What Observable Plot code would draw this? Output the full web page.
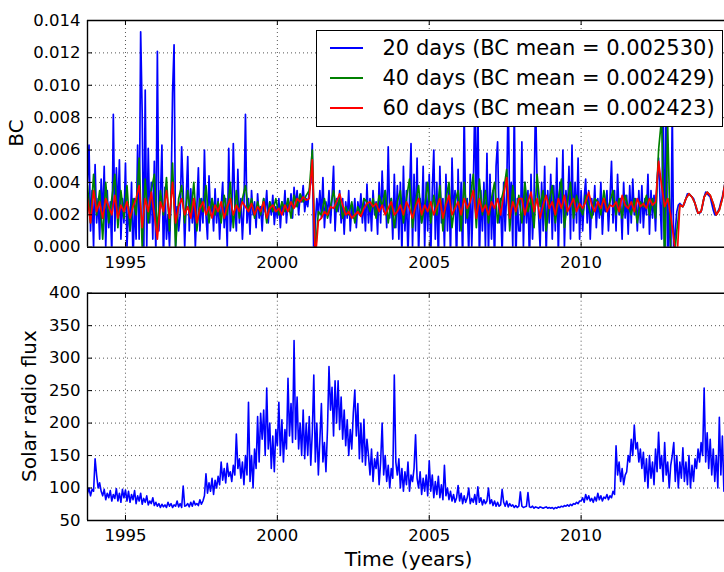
<!DOCTYPE html>
<html>
<head>
<meta charset="utf-8">
<script src="https://cdn.jsdelivr.net/npm/d3@7"></script>
<script src="https://cdn.jsdelivr.net/npm/@observablehq/plot@0.6"></script>
<style>
html, body { margin: 0; padding: 0; background: #fff; }
#fig { position: relative; width: 724px; height: 572px; overflow: hidden; background: #fff;
  font-family: 'DejaVu Sans', sans-serif; color: #000; }
#top, #bottom { position: absolute; left: 0; }
#top { top: 0; }
#bottom { top: 280px; }
.ylab { position: absolute; font-size: 20px; line-height: 20px; white-space: nowrap;
  transform: translate(-50%, -50%) rotate(-90deg); }
#xlab { position: absolute; font-size: 20.3px; line-height: 20px; white-space: nowrap;
  transform: translateX(-50%); }
#legend { position: absolute; left: 316px; top: 30px; width: 407px; height: 97px;
  box-sizing: border-box; border: 1.5px solid #000; background: #fff; }
.row { position: absolute; left: 0; width: 100%; height: 21px; }
.swatch { position: absolute; left: 13px; width: 33px; height: 1.7px; top: 9.3px; }
.ltxt { position: absolute; left: 65.5px; top: 0; font-size: 21px; line-height: 21px; white-space: nowrap; }
</style>
</head>
<body>
<div id="fig">
  <div id="top"></div>
  <div id="bottom"></div>
  <div id="legend"></div>
  <div class="ylab" id="ylab1" style="left:15.5px; top:133px;"></div>
  <div class="ylab" id="ylab2" style="left:29px; top:406px;"></div>
  <div id="xlab" style="left:408.5px; top:549px;"></div>
</div>
<script>
// ---------------- DATA ----------------
// Time axis (decimal years)
const xDomain = [1993.75, 2014.72];
const xTicks = [1995, 2000, 2005, 2010];
const bcTicks = [0, 0.002, 0.004, 0.006, 0.008, 0.010, 0.012, 0.014];
const fluxTicks = [50, 100, 150, 200, 250, 300, 350, 400];

// BC series, values in units of 1e-4, regularly sampled from bcStart
const bcStart = 1993.75;
const bcUnit = 1e-4;
const bc20Step = 0.05;
const bc20 = [
  40, 63, 10, 35, 0,
  51, 15, 30, 5, 42, 18, 50, 0, 35, 12, 28, -5, 82, 10, 49, 20, 54, 5, 30, 15,
  52, 0, 25, 10, 40, -10, 30, 5, 63, 5, 133, 83, -10, 97, 0, 61, 15, 40, 5, 53,
  -5, 121, 10, 30, 63, -10, 37, 5, 20, 0, 30, 95, 125, 0, 25, 10, 20, 62, 35, 0,
  30, 56, 10, 36, 15, 30, 0, 25, 49, 10, 30, 15, 60, 20, 5, 44, 20, 30, 10, 36,
  15, 30, 5, 25, 40, 12, 30, 0, 61, 10, 20, 64, 25, 10, 48, 15, 30, 5, 25, 82,
  15, 30, 8, 35, 20, 28, 12, 33, 18, 25, 10, 30, 22, 35, 15, 28, 20, 32, 14, 25,
  18, 30, 12, 28, 20, 35, 15, 30, 22, 33, 18, 37, 25, 35, 20, 32, 28, 38, 22, 30,
  25, 35, 40, 64, -10, 15, 30, 20, 35, 18, 43, 12, 28, 20, 35, 15, 30, 50, 10, 30,
  22, 35, 15, 30, 8, 28, 18, 35, 10, 25, 18, 30, 12, 28, 20, 33, 15, 30, 10, 39,
  15, 30, 10, 35, 20, 28, 8, 40, 15, 47, 22, 35, 12, 62, 18, 30, 5, 45, 12, 38,
  5, 40, -5, 50, 10, 35, -5, 30, 64, 0, 45, 10, 55, -5, 30, 15, 50, 0, 40, 10,
  45, -5, 35, 60, 5, 40, -10, 50, 15, 30, 0, 45, 10, 38, -5, 55, 20, 35, -10, 48,
  10, 40, -10, 85, 15, 30, -5, 45, 0, 35, 90, 20, 95, -10, 35, 10, 40, 0, 58, -5,
  45, 5, 35, -10, 50, 65, 15, 30, -5, 40, 10, 35, 95, 20, 40, 0, 88, -10, 30, 10,
  10, 65, 0, 40, 15, 35, -10, 45, 5, 30, 92, 40, 20, 0, 40, 10, 50, -5, 35, 15,
  45, 5, 38, 10, 55, -5, 40, 15, 60, 0, 35, 20, 50, 5, 63, 10, 40, 15, 55, 5,
  35, 10, 30, 42, 15, 35, 5, 30, 20, 38, 12, 30, 18, 40, 8, 28, 22, 35, 10, 30,
  53, 15, 35, 10, 45, 20, 30, 5, 40, 18, 32, 8, 38, 15, 42, 20, 30, 10, 35, 15,
  38, 12, 30, 20, 45, 8, 35, 18, 32, 10, 40, 55, 28, 5, 98, -15, 95, -15, 30, -10,
  85, -10, 10, 22, 26, 27, 26, 25, 27, 30, 33, 33, 32, 31, 30, 27, 23, 21, 21, 22,
  26, 31, 34, 33, 32, 31, 27, 23, 20, 20, 22, 24, 28, 31, 36, 41
];
const bcSmoothStep = 0.1;
const bc40 = [
  38, 15, 45,
  20, 35, 5, 40, 15, 30, 45, 12, 35, 18,
  38, 10, 30, 20, 55, 0, 42, 15, 35, 45,
  10, 35, 20, 43, 10, 52, 0, 30, 38, 15,
  35, 20, 40, 10, 30, 22, 38, 15, 30, 20,
  28, 15, 32, 20, 40, 12, 35, 18, 30, 38,
  22, 30, 18, 28, 20, 30, 15, 28, 22, 30,
  20, 28, 22, 30, 18, 32, 25, 33, 28, 32,
  35, 60, -5, 22, 20, 30, 18, 25, 35, 22,
  30, 18, 25, 20, 28, 15, 25, 20, 30, 28,
  22, 30, 18, 32, 25, 35, 15, 30, 12, 28,
  35, 15, 30, 42, 12, 28, 38, 15, 25, 40,
  15, 32, 20, 38, 10, 30, 40, 12, 28, 35,
  10, 40, 18, 30, 45, 12, 42, 20, 35, 15,
  30, 40, 15, 28, 35, 48, 10, 38, 20, 32,
  15, 40, 22, 30, 12, 45, 25, 35, 10, 28,
  38, 15, 30, 42, 12, 28, 40, 18, 32, 25,
  20, 32, 25, 18, 30, 28, 20, 35, 22, 28,
  35, 20, 30, 18, 32, 25, 20, 30, 15, 28,
  25, 32, 20, 30, 18, 60, 80, -10, 75, -5,
  -10, 10, 26, 25, 30, 33, 31, 27, 21, 22,
  31, 34, 32, 27, 20, 23, 30, 41
];
const bc60 = [
  30, 15, 35,
  22, 28, 18, 30, 25, 20, 32, 18, 26, 22,
  28, 18, 25, 30, 38, 12, 30, 22, 34, 20,
  5, 28, 22, 35, 18, 40, 15, 25, 30, 20,
  25, 18, 30, 15, 24, 28, 20, 25, 18, 26,
  22, 28, 18, 25, 30, 20, 26, 22, 28, 25,
  22, 27, 20, 25, 22, 28, 18, 24, 26, 22,
  24, 20, 26, 22, 28, 24, 30, 28, 31, 29,
  30, 54, -8, 16, 18, 22, 20, 25, 24, 28,
  33, 26, 20, 22, 18, 20, 22, 19, 24, 27,
  28, 25, 27, 22, 26, 20, 24, 28, 20, 22,
  26, 20, 28, 24, 18, 25, 30, 20, 26, 22,
  28, 20, 25, 30, 18, 26, 32, 20, 24, 28,
  20, 30, 24, 28, 35, 18, 30, 22, 26, 20,
  28, 24, 30, 20, 32, 43, 18, 28, 22, 30,
  30, 20, 28, 34, 22, 30, 18, 26, 32, 24,
  28, 20, 30, 24, 32, 22, 26, 30, 22, 27,
  24, 28, 34, 26, 22, 28, 24, 30, 22, 26,
  25, 28, 22, 32, 26, 24, 28, 22, 30, 25,
  27, 24, 30, 26, 28, 53, 38, 25, 30, 20,
  5, -10, 26, 25, 30, 33, 31, 27, 21, 22,
  31, 34, 32, 27, 20, 23, 30, 41
];

// Solar radio flux, regularly sampled from fluxStart
const fluxStart = 1993.75;
const fluxStep = 0.05;
const flux = [
  92, 100, 88, 98, 95,
  145, 120, 100, 108, 95, 88, 98, 82, 92, 85, 96, 80, 90, 84, 99, 80, 92, 78, 98, 85,
  97, 80, 95, 78, 90, 82, 96, 76, 88, 80, 92, 75, 84, 78, 88, 74, 80, 76, 85, 73,
  78, 72, 76, 70, 75, 71, 74, 70, 78, 72, 76, 70, 74, 72, 80, 71, 76, 70, 103, 72,
  73, 76, 71, 78, 72, 80, 74, 76, 73, 82, 75, 80, 88, 122, 92, 108, 95, 115, 90, 112,
  100, 118, 105, 140, 112, 130, 108, 138, 118, 125, 110, 135, 120, 183, 130, 145, 115, 140, 105, 150,
  120, 232, 110, 150, 100, 160, 130, 210, 140, 215, 175, 220, 150, 254, 160, 200, 130, 180, 125, 190,
  165, 232, 150, 205, 140, 190, 160, 269, 180, 230, 170, 327, 175, 240, 160, 200, 150, 220, 145, 200,
  150, 210, 135, 185, 274, 140, 200, 120, 175, 230, 140, 170, 125, 190, 287, 220, 255, 180, 265, 200,
  265, 190, 240, 175, 220, 165, 205, 150, 190, 160, 215, 251, 180, 230, 145, 200, 140, 206, 135, 175,
  150, 120, 160, 110, 145, 130, 155, 105, 140, 200, 120, 150, 110, 135, 100, 130, 115, 274, 140, 120,
  145, 100, 130, 95, 125, 105, 140, 95, 120, 110, 130, 182, 115, 100, 125, 90, 115, 95, 120, 88,
  142, 95, 120, 85, 110, 90, 118, 85, 105, 82, 135, 88, 100, 82, 95, 80, 90, 78, 85, 104,
  80, 92, 76, 88, 78, 85, 100, 76, 84, 78, 90, 75, 102, 78, 85, 74, 82, 76, 80, 100,
  76, 82, 73, 80, 72, 78, 72, 74, 98, 78, 72, 80, 71, 76, 72, 74, 70, 73, 70, 72,
  94, 72, 70, 71, 72, 93, 71, 70, 72, 69, 71, 70, 69, 71, 70, 69, 70, 71, 69, 70,
  69, 70, 68, 70, 69, 71, 70, 72, 71, 73, 72, 74, 72, 75, 73, 76, 75, 78, 76, 80,
  80, 85, 78, 90, 82, 88, 80, 84, 78, 86, 80, 92, 82, 88, 80, 86, 84, 90, 82, 88,
  85, 95, 90, 165, 120, 140, 110, 130, 105, 120, 125, 150, 140, 175, 150, 197, 160, 170, 140, 160,
  130, 155, 110, 145, 100, 150, 115, 140, 105, 160, 125, 186, 130, 150, 110, 170, 120, 140, 100, 135,
  150, 170, 110, 150, 100, 140, 115, 162, 110, 140, 105, 150, 100, 135, 110, 145, 130, 160, 140, 170,
  150, 254, 140, 185, 130, 175, 120, 160, 110, 150, 100, 209, 120, 180, 95, 140
];

const seriesNames = ["20 days (BC mean = 0.002530)", "40 days (BC mean = 0.002429)", "60 days (BC mean = 0.002423)"];
const seriesColors = ["#0000ff", "#008000", "#ff0000"];
const yLabelTop = "BC";
const yLabelBottom = "Solar radio flux";
const xLabel = "Time (years)";

// ---------------- BUILD ----------------
const W = 724, ML = 87;
const toRows = (vals, start, step, unit) => vals.map((v, i) => ({t: start + i * step, v: v * unit}));
const d20 = toRows(bc20, bcStart, bc20Step, bcUnit);
const d40 = toRows(bc40, bcStart, bcSmoothStep, bcUnit);
const d60 = toRows(bc60, bcStart, bcSmoothStep, bcUnit);
const dFlux = toRows(flux, fluxStart, fluxStep, 1);

function panel({height, marginTop, marginBottom, yDomain, yTicks, yFormat, lines}) {
  const innerH = height - marginTop - marginBottom;
  const innerW = W - ML;
  const gridStyle = {stroke: "#000", strokeOpacity: 0.75, strokeWidth: 0.9, strokeDasharray: "1,3"};
  const frameStyle = {stroke: "#000", strokeWidth: 1.4};
  return Plot.plot({
    width: W, height, marginLeft: ML, marginRight: 0, marginTop, marginBottom,
    style: {background: "transparent", fontFamily: "'DejaVu Sans', sans-serif", fontSize: "16.5px", color: "#000", overflow: "visible"},
    x: {domain: xDomain, label: null},
    y: {domain: yDomain, label: null},
    marks: [
      Plot.ruleX(xTicks, gridStyle),
      Plot.ruleY(yTicks.slice(1, -1), gridStyle),
      ...lines,
      Plot.ruleY([yDomain[0]], frameStyle),
      Plot.ruleY([yDomain[1]], frameStyle),
      Plot.ruleX([xDomain[0]], frameStyle),
      Plot.tickX(xTicks, {insetTop: innerH - 5, stroke: "#000", strokeWidth: 1}),
      Plot.tickX(xTicks, {insetBottom: innerH - 5, stroke: "#000", strokeWidth: 1}),
      Plot.tickY(yTicks, {insetRight: innerW - 5, stroke: "#000", strokeWidth: 1}),
      Plot.axisX(xTicks, {tickSize: 0, tickPadding: 9, tickFormat: d => String(d), label: null}),
      Plot.axisY(yTicks, {tickSize: 0, tickPadding: 7, tickFormat: yFormat, label: null})
    ]
  });
}

const topPlot = panel({
  height: 280, marginTop: 20, marginBottom: 33.3,
  yDomain: [0, 0.014], yTicks: bcTicks, yFormat: d3.format(".3f"),
  lines: [
    Plot.line(d20, {x: "t", y: "v", stroke: seriesColors[0], strokeWidth: 1.7, clip: true}),
    Plot.line(d40, {x: "t", y: "v", stroke: seriesColors[1], strokeWidth: 1.7, clip: true}),
    Plot.line(d60, {x: "t", y: "v", stroke: seriesColors[2], strokeWidth: 1.7, clip: true})
  ]
});
document.getElementById("top").appendChild(topPlot);

const bottomPlot = panel({
  height: 292, marginTop: 12.7, marginBottom: 52,
  yDomain: [50, 400], yTicks: fluxTicks, yFormat: d => String(d),
  lines: [
    Plot.line(dFlux, {x: "t", y: "v", stroke: "#0000ff", strokeWidth: 1.6, clip: true})
  ]
});
document.getElementById("bottom").appendChild(bottomPlot);

// Legend
const legend = document.getElementById("legend");
const rowCenters = [16.7, 47.3, 77.3];
seriesNames.forEach((name, i) => {
  const row = document.createElement("div");
  row.className = "row";
  row.style.top = (rowCenters[i] - 10.1) + "px";
  const sw = document.createElement("div");
  sw.className = "swatch";
  sw.style.background = seriesColors[i];
  const tx = document.createElement("div");
  tx.className = "ltxt";
  tx.textContent = name;
  row.appendChild(sw);
  row.appendChild(tx);
  legend.appendChild(row);
});

document.getElementById("ylab1").textContent = yLabelTop;
document.getElementById("ylab2").textContent = yLabelBottom;
document.getElementById("xlab").textContent = xLabel;
</script>
</body>
</html>
